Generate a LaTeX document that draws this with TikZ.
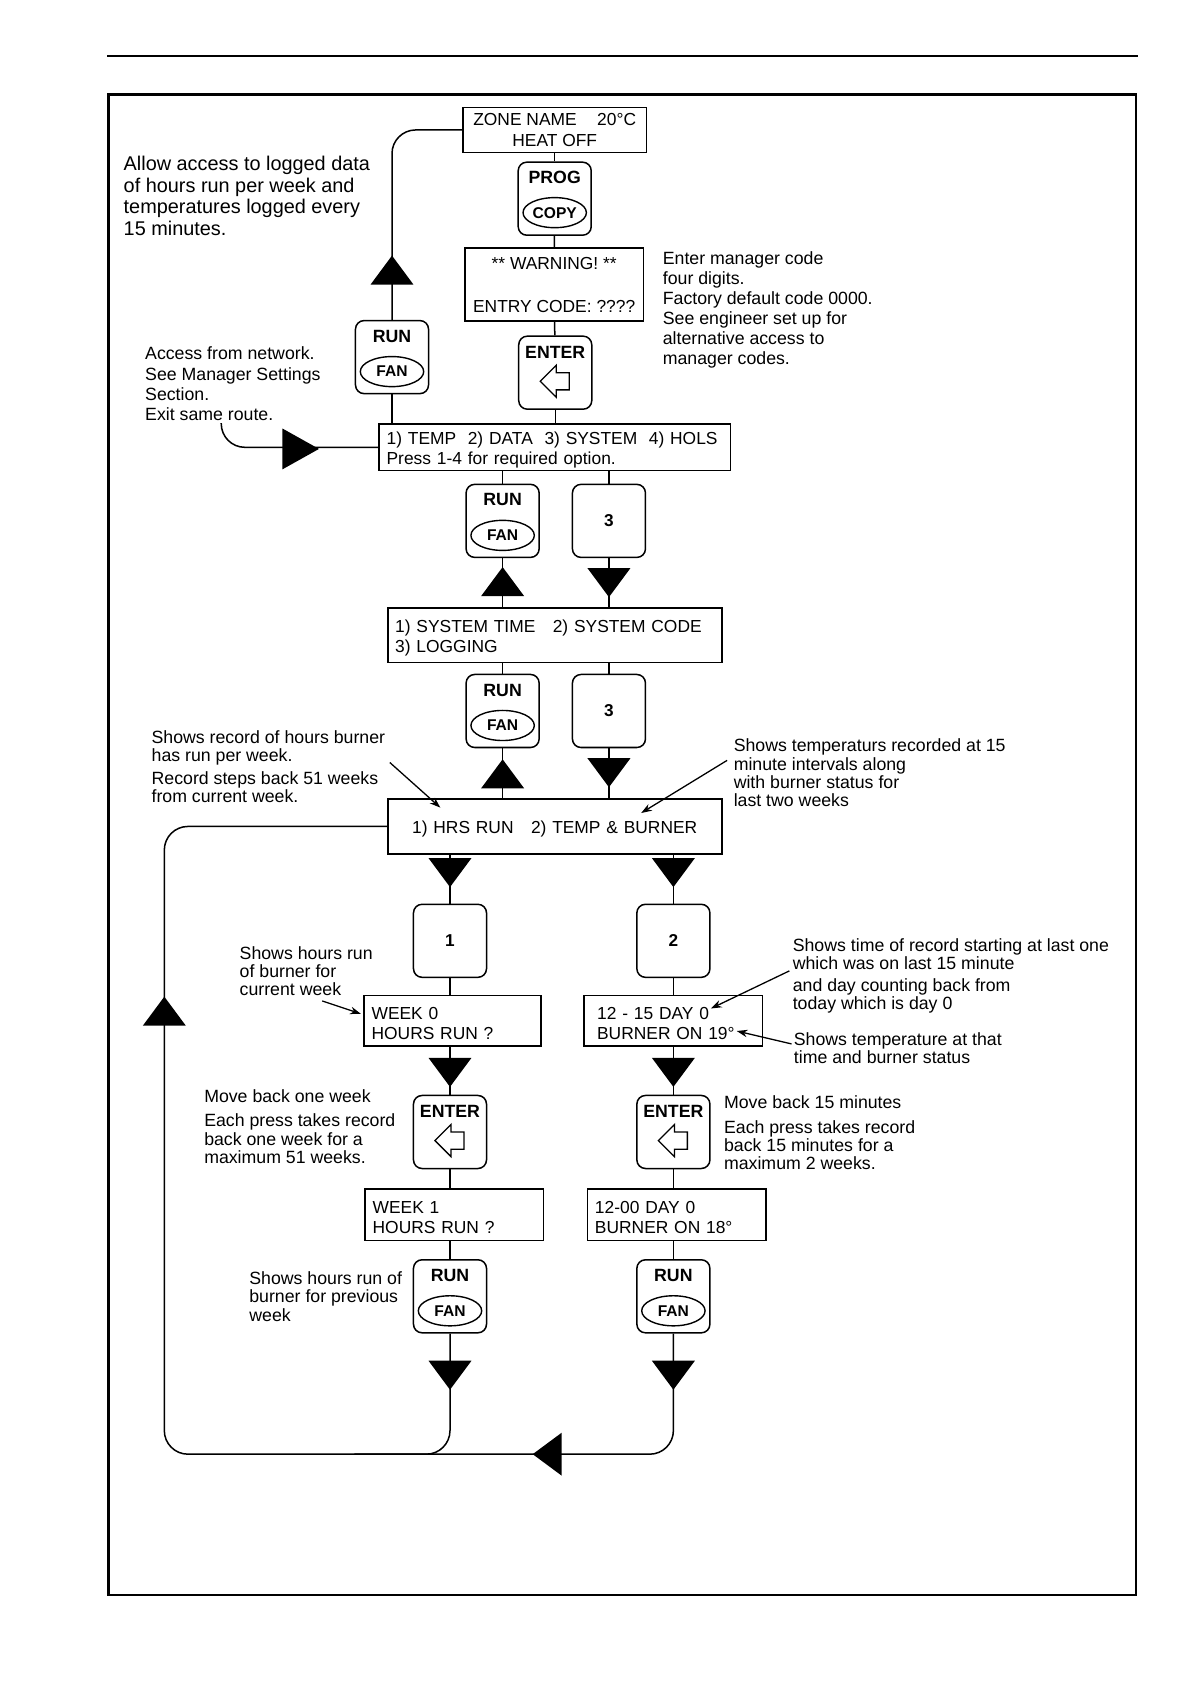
\documentclass[tikz,border=0pt]{standalone}
\usepackage{fontspec}
\setmainfont{Liberation Sans}
\usetikzlibrary{arrows.meta,shapes.geometric}

% key with RUN over an oval FAN
\newcommand{\runfan}[3]{%
  \node[key] (#1) at (#2,#3) {};
  \node[keylbl] (#1-lbl) at (#2,#3-19.5) {RUN};
  \node[oval] (#1-oval) at (#2,#3+13.5) {FAN};}
% ENTER key with outline arrow
\newcommand{\enterkey}[3]{%
  \node[key] (#1) at (#2,#3) {};
  \node[keylbl] (#1-lbl) at (#2,#3-19) {ENTER};
  \draw[line width=1.2pt] (#2-14,#3+8) -- (#2+1,#3-7) -- (#2+1,#3) -- (#2+13,#3)
    -- (#2+13,#3+16) -- (#2+1,#3+16) -- (#2+1,#3+23) -- cycle;}
\newcommand{\numkey}[4]{%
  \node[key, font=\bfseries\fontsize{16}{18}\selectfont] (#1) at (#2,#3) {#4};}
% big filled flow triangles, given by their tip
\newcommand{\tridown}[2]{\fill (#1-20,#2-27) -- (#1+20,#2-27) -- (#1,#2) -- cycle;}
\newcommand{\triup}[2]{\fill (#1-20,#2+27) -- (#1+20,#2+27) -- (#1,#2) -- cycle;}
\newcommand{\trileft}[2]{\fill (#1+27,#2-20) -- (#1+27,#2+20) -- (#1,#2) -- cycle;}
\newcommand{\triright}[2]{\fill (#1-34,#2-19) -- (#1-34,#2+19) -- (#1,#2) -- cycle;}

\begin{document}
\begin{tikzpicture}[x=1pt, y=-1pt,
    screen/.style={draw, line width=1.5pt, inner ysep=0pt, font=\fontsize{16.2}{19}\selectfont,
      execute at begin node={\rule{0pt}{16.5pt}}},
    key/.style={draw, line width=1.4pt, rounded corners=8pt, minimum width=68pt, minimum height=68pt, inner sep=0pt},
    keylbl/.style={inner sep=0pt, font=\bfseries\fontsize{16.5}{18}\selectfont},
    oval/.style={draw, ellipse, line width=1.3pt, minimum width=59pt, minimum height=28pt, inner sep=0pt, font=\bfseries\fontsize{14.5}{16}\selectfont},
    note/.style={align=left, anchor=north west, inner sep=0pt, font=\fontsize{16.5}{17}\selectfont},
    wide note/.style={note, font=\fontsize{16.5}{18.7}\selectfont},
    flow/.style={line width=1.4pt},
    pointer/.style={line width=1.2pt, -{Stealth[length=10pt, width=7pt]}}
  ]
  \useasboundingbox (0,0) rectangle (1108,1568);
  \draw[line width=2.5pt] (100,52) -- (1060,52);
  \draw[line width=2pt] (101,88) rectangle (1058,1485);

  % displays
  \node[screen, minimum width=171pt, minimum height=42pt, align=center] (zone) at (516.5,121) {ZONE NAME\hspace{0.9em} 20°C\\HEAT OFF};
  \node[screen, minimum width=166pt, minimum height=68pt, align=center] (warn) at (516,265) {** WARNING! **\\[21pt]ENTRY CODE: ????};
  \node[screen, text width=313pt, inner xsep=7pt, minimum height=43pt, align=left] (menu1) at (516.5,416.5) {1) TEMP\ \ 2) DATA\ \ 3) SYSTEM\ \ 4) HOLS\\Press 1-4 for required option.};
  \node[screen, text width=297pt, inner xsep=7pt, minimum height=51pt, align=left] (menu2) at (516.5,591.5) {1) SYSTEM TIME\ \ \ 2) SYSTEM CODE\\3) LOGGING};
  \node[screen, text width=297pt, inner xsep=7pt, minimum height=51pt, align=center] (menu3) at (516.5,769.5) {1) HRS RUN\ \ \ 2) TEMP \& BURNER};
  \node[screen, text width=151pt, inner xsep=7pt, minimum height=47pt, align=left] (wk0) at (421.5,950.5) {WEEK 0\\HOURS RUN ?};
  \node[screen, text width=152pt, inner xsep=7pt, minimum height=48pt, align=left] (wk1) at (423,1131) {WEEK 1\\HOURS RUN ?};
  \node[screen, text width=142pt, inner xsep=12pt, minimum height=47pt, align=left] (day0) at (627,950.5) {12 - 15 DAY 0\\BURNER ON 19°};
  \node[screen, text width=152pt, inner xsep=7pt, minimum height=48pt, align=left] (day1) at (630,1131) {12-00 DAY 0\\BURNER ON 18°};

  % keys
  \node[key] (prog) at (516.5,185) {};
  \node[keylbl] (prog-lbl) at (516.5,165) {PROG};
  \node[oval] (prog-oval) at (516.5,198) {COPY};
  \enterkey{enter1}{517}{347}
  \runfan{rf1}{365}{332.5}
  \runfan{rf2}{468}{485}
  \numkey{k3a}{567}{485}{3}
  \runfan{rf3}{468}{662}
  \numkey{k3b}{567}{662}{3}
  \numkey{k1}{419}{876}{1}
  \numkey{k2}{627}{876}{2}
  \enterkey{ent2}{419}{1054}
  \enterkey{ent3}{627}{1054}
  \runfan{rf4}{419}{1207}
  \runfan{rf5}{627}{1207}

  \coordinate (netin) at (206,394);
  \coordinate (loop) at (153,1354);
  \coordinate (merge) at (330,1354);

  % flow lines
  \draw[flow] (zone) -- (prog);
  \draw[flow] (prog) -- (warn);
  \draw[flow] (warn) -- (enter1);
  \draw[flow] (enter1) -- (enter1 |- menu1.north);
  \draw[flow] (rf1) -- (rf1 |- menu1.north);
  \draw[flow, rounded corners=22pt] (rf1.north) |- (zone.west);
  \draw[flow, rounded corners=22pt] (netin) |- (menu1.west);
  \draw[flow] (rf2 |- menu1.south) -- (rf2);
  \draw[flow] (k3a |- menu1.south) -- (k3a);
  \draw[flow] (rf2) -- (rf2 |- menu2.north);
  \draw[flow] (k3a) -- (k3a |- menu2.north);
  \draw[flow] (rf3 |- menu2.south) -- (rf3);
  \draw[flow] (k3b |- menu2.south) -- (k3b);
  \draw[flow] (rf3) -- (rf3 |- menu3.north);
  \draw[flow] (k3b) -- (k3b |- menu3.north);
  \draw[flow] (k1 |- menu3.south) -- (k1);
  \draw[flow] (k2 |- menu3.south) -- (k2);
  \draw[flow] (k1) -- (k1 |- wk0.north);
  \draw[flow] (k2) -- (k2 |- day0.north);
  \draw[flow] (k1 |- wk0.south) -- (ent2);
  \draw[flow] (k2 |- day0.south) -- (ent3);
  \draw[flow] (ent2) -- (ent2 |- wk1.north);
  \draw[flow] (ent3) -- (ent3 |- day1.north);
  \draw[flow] (ent2 |- wk1.south) -- (rf4);
  \draw[flow] (ent3 |- day1.south) -- (rf5);
  \draw[flow, rounded corners=22pt] (rf5.south) |- (loop) |- (menu3.west);
  \draw[flow, rounded corners=22pt] (rf4.south) |- (merge);

  % direction triangles
  \triup{365}{238}
  \triright{297}{418}
  \triup{468}{528}
  \tridown{567}{556}
  \triup{468}{707}
  \tridown{567}{733}
  \tridown{419}{826}
  \tridown{627}{826}
  \tridown{419}{1012}
  \tridown{627}{1012}
  \tridown{419}{1294}
  \tridown{627}{1294}
  \triup{153}{928}
  \trileft{496}{1354}

  % notes
  \node[note, font=\fontsize{18.5}{20.3}\selectfont] (allow) at (115,145) {Allow access to logged data\\of hours run per week and\\temperatures logged every\\15 minutes.};
  \node[wide note] (mgr) at (617,234) {Enter manager code\\four digits.\\Factory default code 0000.\\See engineer set up for\\alternative access to\\manager codes.};
  \node[wide note] (net) at (135,323) {Access from network.\\See Manager Settings\\Section.\\Exit same route.};
  \node[note] (hrsnote) at (141,680) {Shows record of hours burner\\has run per week.\\[4pt]Record steps back 51 weeks\\from current week.};
  \node[note] (tmpnote) at (683,688) {Shows temperaturs recorded at 15\\minute intervals along\\with burner status for\\last two weeks};
  \node[note] (wknote) at (223,881) {Shows hours run\\of burner for\\current week};
  \node[note] (backwk) at (190,1014) {Move back one week\\[6pt]Each press takes record\\back one week for a\\maximum 51 weeks.};
  \node[note] (prevwk) at (232,1184) {Shows hours run of\\burner for previous\\week};
  \node[note] (timenote) at (738,874) {Shows time of record starting at last one\\which was on last 15 minute\\[3pt]and day counting back from\\today which is day 0};
  \node[note] (degnote) at (739,961) {Shows temperature at that\\time and burner status};
  \node[note] (back15) at (674,1020) {Move back 15 minutes\\[6pt]Each press takes record\\back 15 minutes for a\\maximum 2 weeks.};

  % note pointers
  \coordinate (hrs-a) at (363,710);
  \coordinate (hrs-b) at (410,752);
  \coordinate (tmp-a) at (677,708);
  \coordinate (tmp-b) at (597,757);
  \coordinate (wk-a) at (300,932);
  \coordinate (wk-b) at (336,944);
  \coordinate (tim-a) at (735,904);
  \coordinate (tim-b) at (662,939);
  \coordinate (deg-a) at (737,972);
  \coordinate (deg-b) at (686,960);
  \draw[pointer] (hrs-a) -- (hrs-b);
  \draw[pointer] (tmp-a) -- (tmp-b);
  \draw[pointer] (wk-a) -- (wk-b);
  \draw[pointer] (tim-a) -- (tim-b);
  \draw[pointer] (deg-a) -- (deg-b);
\end{tikzpicture}
\end{document}
